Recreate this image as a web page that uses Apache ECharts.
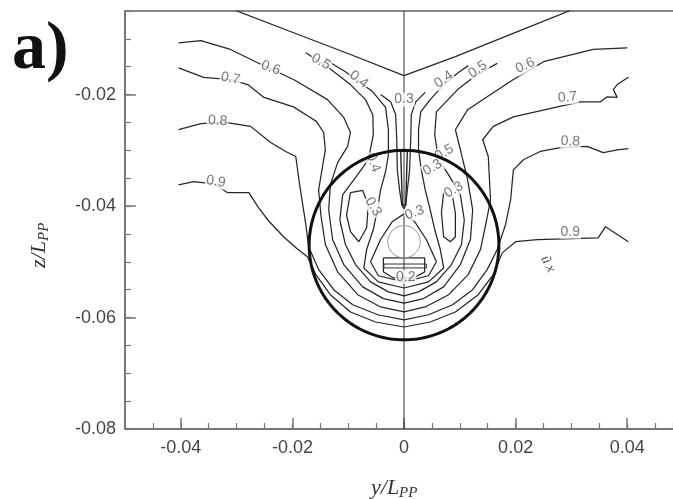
<!DOCTYPE html>
<html><head><meta charset="utf-8">
<script src="https://cdn.jsdelivr.net/npm/echarts@6/dist/echarts.min.js"></script>
<style>html,body{margin:0;padding:0;background:#fff}#c{width:673px;height:499px}</style>
</head><body><div id="c"></div>
<script>
// ---- axis ticks ----
const xTickLabels = [-0.04, -0.02, 0, 0.02, 0.04];
const zTickLabels = [-0.08, -0.06, -0.04, -0.02];

// ---- contour lines, [y/Lpp, z/Lpp] ----
const contour09 = [[-0.0404,-0.0362],[-0.0377,-0.0356],[-0.0341,-0.0360],[-0.0316,-0.0376],[-0.0278,-0.0376],[-0.0262,-0.0401],[-0.0244,-0.0425],[-0.0216,-0.0455],[-0.0191,-0.0477],[-0.0173,-0.0491],[-0.0158,-0.0523],[-0.0132,-0.0559],[-0.0096,-0.0590],[-0.0051,-0.0608],[0,-0.0617],[0.0047,-0.0608],[0.0092,-0.0590],[0.0133,-0.0559],[0.0160,-0.0523],[0.0176,-0.0484],[0.0200,-0.0464],[0.0239,-0.0460],[0.0348,-0.0457],[0.0361,-0.0437],[0.0402,-0.0464]];
const contour08 = [[-0.0404,-0.0263],[-0.0364,-0.0252],[-0.0320,-0.0250],[-0.0275,-0.0257],[-0.0239,-0.0286],[-0.0212,-0.0302],[-0.0194,-0.0311],[-0.0187,-0.0362],[-0.0176,-0.0433],[-0.0171,-0.0473],[-0.0153,-0.0514],[-0.0126,-0.0550],[-0.0092,-0.0577],[-0.0047,-0.0595],[0,-0.0604],[0.0044,-0.0595],[0.0087,-0.0577],[0.0123,-0.0550],[0.0149,-0.0514],[0.0167,-0.0478],[0.0182,-0.0433],[0.0191,-0.0389],[0.0196,-0.0335],[0.0214,-0.0317],[0.0244,-0.0302],[0.0280,-0.0295],[0.0328,-0.0293],[0.0357,-0.0304],[0.0382,-0.0299],[0.0402,-0.0297]];
const contour07 = [[-0.0404,-0.0152],[-0.0359,-0.0169],[-0.0311,-0.0173],[-0.0280,-0.0182],[-0.0251,-0.0205],[-0.0198,-0.0222],[-0.0173,-0.0238],[-0.0157,-0.0248],[-0.0144,-0.0268],[-0.0141,-0.0299],[-0.0146,-0.0329],[-0.0153,-0.0371],[-0.0149,-0.0416],[-0.0141,-0.0469],[-0.0119,-0.0518],[-0.0083,-0.0559],[-0.0042,-0.0581],[0,-0.0590],[0.0038,-0.0581],[0.0080,-0.0559],[0.0115,-0.0523],[0.0137,-0.0478],[0.0148,-0.0425],[0.0155,-0.0389],[0.0151,-0.0311],[0.0141,-0.0281],[0.0160,-0.0257],[0.0196,-0.0240],[0.0275,-0.0222],[0.0316,-0.0213],[0.0352,-0.0213],[0.0364,-0.0204],[0.0382,-0.0205],[0.0375,-0.0191],[0.0382,-0.0182],[0.0402,-0.0169]];
const contour06 = [[-0.0404,-0.0107],[-0.0364,-0.0103],[-0.0311,-0.0119],[-0.0266,-0.0141],[-0.0198,-0.0173],[-0.0137,-0.0209],[-0.0108,-0.0241],[-0.0096,-0.0268],[-0.0101,-0.0293],[-0.0119,-0.0322],[-0.0132,-0.0362],[-0.0135,-0.0407],[-0.0128,-0.0460],[-0.0108,-0.0505],[-0.0074,-0.0545],[-0.0037,-0.0566],[0,-0.0574],[0.0035,-0.0566],[0.0071,-0.0545],[0.0101,-0.0505],[0.0119,-0.0460],[0.0123,-0.0407],[0.0114,-0.0353],[0.0101,-0.0299],[0.0092,-0.0263],[0.0114,-0.0227],[0.0149,-0.0204],[0.0196,-0.0173],[0.0250,-0.0141],[0.0339,-0.0119],[0.0400,-0.0116]];
const contour05 = [[-0.0176,-0.0125],[-0.0135,-0.0152],[-0.0096,-0.0182],[-0.0069,-0.0209],[-0.0056,-0.0236],[-0.0055,-0.0272],[-0.0064,-0.0317],[-0.0087,-0.0349],[-0.0110,-0.0380],[-0.0115,-0.0425],[-0.0105,-0.0469],[-0.0087,-0.0505],[-0.0060,-0.0536],[-0.0028,-0.0554],[0,-0.0561],[0.0026,-0.0554],[0.0058,-0.0536],[0.0085,-0.0505],[0.0103,-0.0469],[0.0108,-0.0425],[0.0101,-0.0380],[0.0080,-0.0344],[0.0062,-0.0317],[0.0055,-0.0272],[0.0058,-0.0231],[0.0096,-0.0191],[0.0128,-0.0166],[0.0167,-0.0144]];
const contour04 = [[-0.0141,-0.0137],[-0.0105,-0.0159],[-0.0056,-0.0195],[-0.0033,-0.0223],[-0.0028,-0.0263],[-0.0028,-0.0308],[-0.0033,-0.0338],[-0.0042,-0.0371],[-0.0047,-0.0403],[-0.0055,-0.0442],[-0.0067,-0.0478],[-0.0072,-0.0511],[-0.0046,-0.0536],[0,-0.0547],[0.0044,-0.0536],[0.0071,-0.0511],[0.0065,-0.0478],[0.0055,-0.0442],[0.0046,-0.0403],[0.0038,-0.0371],[0.0031,-0.0335],[0.0026,-0.0299],[0.0026,-0.0263],[0.0030,-0.0231],[0.0047,-0.0209],[0.0071,-0.0182],[0.0098,-0.0160],[0.0115,-0.0148]];
const contour03Tongue = [[-0.0042,-0.0200],[-0.0024,-0.0213],[-0.0015,-0.0236],[-0.0013,-0.0281],[-0.0012,-0.0335],[-0.0008,-0.0371],[-0.0004,-0.0398],[0,-0.0405],[0.0003,-0.0398],[0.0006,-0.0371],[0.0010,-0.0335],[0.0012,-0.0281],[0.0013,-0.0236],[0.0021,-0.0213],[0.0038,-0.0196]];
const contour03Core = [[-0.0060,-0.0500],[-0.0042,-0.0460],[-0.0021,-0.0428],[0,-0.0414],[0.0019,-0.0428],[0.0040,-0.0460],[0.0058,-0.0500],[0.0044,-0.0525],[0,-0.0536],[-0.0046,-0.0525],[-0.0060,-0.0500]];
const contourSliver = [[-0.0006,-0.0299],[-0.0003,-0.0398],[0.0003,-0.0398],[0.0006,-0.0299],[-0.0006,-0.0299]];
const contourTopV = [[-0.0302,-0.0049],[-0.0185,-0.0094],[-0.0096,-0.0128],[0,-0.0166],[0.0092,-0.0132],[0.0191,-0.0092],[0.0298,-0.0049]];
const contourBlobLeft = [[-0.0096,-0.0376],[-0.0074,-0.0372],[-0.0064,-0.0398],[-0.0067,-0.0439],[-0.0081,-0.0464],[-0.0096,-0.0446],[-0.0103,-0.0416],[-0.0096,-0.0376]];
const contourBlobRight = [[0.0071,-0.0376],[0.0087,-0.0383],[0.0092,-0.0412],[0.0092,-0.0455],[0.0083,-0.0464],[0.0071,-0.0455],[0.0067,-0.0412],[0.0071,-0.0376]];
const contour02 = [[-0.0037,-0.0493],[-0.0037,-0.0518],[-0.0019,-0.0529],[0.0017,-0.0529],[0.0037,-0.0518],[0.0037,-0.0493],[-0.0037,-0.0493]];
const contour02Bar = [[-0.0036,-0.0504],[0.0040,-0.0504],[0.0040,-0.0511],[-0.0036,-0.0511],[-0.0036,-0.0504]];

// ---- contour labels ----
const labelText = ['0.9','0.8','0.7','0.6','0.5','0.4','0.3','0.4','0.5','0.6','0.7','0.8','0.9','0.4','0.3','0.5','0.3','0.3','0.3','0.2'];
const labelY = [-0.0337,-0.0334,-0.0311,-0.0239,-0.0149,-0.0081,0,0.0071,0.0132,0.0217,0.0293,0.0298,0.0298,-0.0055,-0.0055,0.0072,0.0051,0.0089,0.0019,0.0003];
const labelZ = [-0.0356,-0.0247,-0.0171,-0.0152,-0.0141,-0.0173,-0.0209,-0.0173,-0.0155,-0.0148,-0.0205,-0.0284,-0.0446,-0.0322,-0.0401,-0.0304,-0.0331,-0.0371,-0.0412,-0.0527];

// ---- propeller disk and hub ----
const diskCenter = [0, -0.047];
const diskRadius = 0.017;
const hubCenter = [0, -0.0464];
const hubRadius = 0.0029;

// styles (not data)
const labelRotate = [-8,-4,-12,-20,-30,-38,0,35,35,25,5,-3,0,-70,-60,30,30,30,20,0];

function circlePts(c, r, n) {
  const pts = [];
  for (let i = 0; i <= n; i++) {
    const a = 2 * Math.PI * i / n;
    pts.push([c[0] + r * Math.cos(a), c[1] + r * Math.sin(a)]);
  }
  return pts;
}

const contours = [contour09, contour08, contour07, contour06, contour05, contour04, contour03Tongue,
  contour03Core, contourTopV, contourBlobLeft, contourBlobRight, contour02];
const series = contours.map(d => ({
  type: 'line', data: d, symbol: 'none', silent: true, animation: false,
  lineStyle: { color: '#262626', width: 1.25 }, z: 3
}));
series.push({ type: 'line', data: contourSliver, symbol: 'none', animation: false,
  lineStyle: { color: '#222', width: 1.4 }, z: 3 });
series.push({ type: 'line', data: contour02Bar, symbol: 'none', animation: false,
  lineStyle: { color: '#333', width: 1 }, z: 3 });
series.push({ type: 'line', data: circlePts(hubCenter, hubRadius, 60), symbol: 'none', animation: false,
  lineStyle: { color: '#999', width: 1 }, z: 3 });
series.push({ type: 'line', data: [[0, -0.08], [0, -0.005]], symbol: 'none', animation: false,
  lineStyle: { color: '#333', width: 1 }, z: 2 });
series.push({
  type: 'scatter', symbolSize: 0, animation: false, z: 5,
  data: labelText.map((t, i) => ({ value: [labelY[i], labelZ[i]], name: t,
    label: { rotate: labelRotate[i] } })),
  label: { show: true, position: 'inside', formatter: p => p.name, fontFamily: 'Liberation Sans',
    fontSize: 14, color: '#555', backgroundColor: '#fff', padding: [0, 1] }
});
series.push({ type: 'line', data: circlePts(diskCenter, diskRadius, 180), symbol: 'none', animation: false,
  lineStyle: { color: '#111', width: 3 }, z: 6 });

const tickFont = { fontFamily: 'Liberation Sans', fontSize: 18, color: '#444' };
const chart = echarts.init(document.getElementById('c'), null, { renderer: 'canvas' });
chart.setOption({
  backgroundColor: '#fff',
  animation: false,
  grid: { left: 125, right: 0, top: 11, bottom: 70, show: false },
  xAxis: [
    { type: 'value', min: -0.05, max: 0.0482, position: 'bottom',
      axisLine: { show: true, onZero: false, lineStyle: { color: '#777', width: 2 } },
      axisTick: { show: true, inside: true, length: 11, customValues: xTickLabels, lineStyle: { color: '#777', width: 1.5 } },
      axisLabel: Object.assign({ customValues: xTickLabels, margin: 10, formatter: v => String(v) }, tickFont),
      splitLine: { show: false } },
    { type: 'value', min: -0.05, max: 0.0482, interval: 0.005, position: 'bottom',
      axisLine: { show: false, onZero: false },
      axisTick: { show: true, inside: true, length: 6, lineStyle: { color: '#777', width: 1.2 } },
      axisLabel: { show: false }, splitLine: { show: false } },
    { type: 'value', min: -0.05, max: 0.0482, position: 'top',
      axisLine: { show: true, onZero: false, lineStyle: { color: '#888', width: 2 } },
      axisTick: { show: false }, axisLabel: { show: false }, splitLine: { show: false } }
  ],
  yAxis: [
    { type: 'value', min: -0.08, max: -0.005, position: 'left',
      axisLine: { show: true, onZero: false, lineStyle: { color: '#777', width: 2 } },
      axisTick: { show: true, inside: true, length: 11, customValues: zTickLabels, lineStyle: { color: '#777', width: 1.5 } },
      axisLabel: Object.assign({ customValues: zTickLabels, margin: 9, formatter: v => String(v) }, tickFont),
      splitLine: { show: false } },
    { type: 'value', min: -0.08, max: -0.005, interval: 0.005, position: 'left',
      axisLine: { show: false, onZero: false },
      axisTick: { show: true, inside: true, length: 6, lineStyle: { color: '#777', width: 1.2 } },
      axisLabel: { show: false }, splitLine: { show: false } }
  ],
  series: series,
  graphic: [
    { type: 'text', left: 12, top: 16, style: { text: 'a)', font: 'bold 68px "Liberation Serif"', fill: '#111' } },
    { type: 'group', x: 401, y: 488, children: [
      { type: 'text', x: -30, y: 0, style: { text: 'y/L', font: 'italic 22px "Liberation Serif"', fill: '#333', textAlign: 'left', textVerticalAlign: 'middle' } },
      { type: 'text', x: -2, y: 5, style: { text: 'PP', font: 'italic 15px "Liberation Serif"', fill: '#333', textAlign: 'left', textVerticalAlign: 'middle' } }
    ] },
    { type: 'group', x: 39, y: 240, rotation: Math.PI / 2, children: [
      { type: 'text', x: -28, y: 0, style: { text: 'z/L', font: 'italic 22px "Liberation Serif"', fill: '#333', textAlign: 'left', textVerticalAlign: 'middle' } },
      { type: 'text', x: -1, y: 5, style: { text: 'PP', font: 'italic 15px "Liberation Serif"', fill: '#333', textAlign: 'left', textVerticalAlign: 'middle' } }
    ] },
    { type: 'text', x: 548, y: 264, rotation: -1.1, style: { text: 'ũ x', font: 'italic 14px "Liberation Serif"', fill: '#555', textAlign: 'center', textVerticalAlign: 'middle' } }
  ]
});
</script>
</body></html>
